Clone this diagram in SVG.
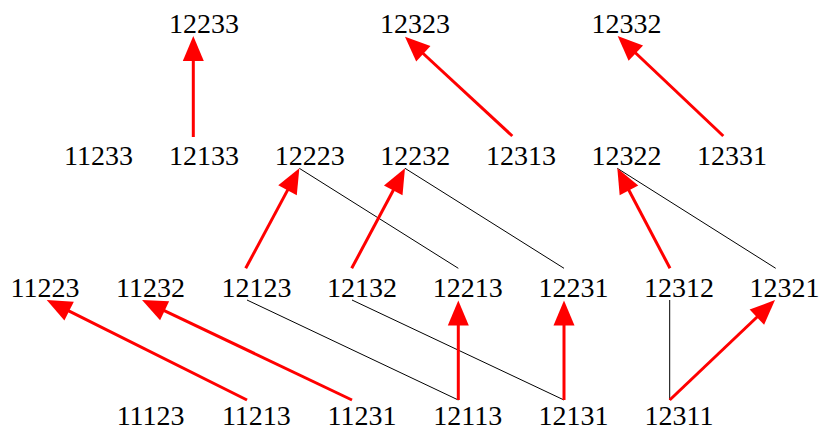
<svg xmlns="http://www.w3.org/2000/svg" width="823" height="431" viewBox="0 0 823 431">
<style>
text{font-family:"Liberation Serif","DejaVu Serif",serif;font-size:28px;fill:#000;text-anchor:middle}
.red{stroke:#ff0000;stroke-width:3;fill:none;marker-end:url(#ah)}
.blk{stroke:#000;stroke-width:1;fill:none}
</style>
<defs>
<marker id="ah" markerUnits="userSpaceOnUse" orient="auto" refX="0" refY="0" overflow="visible" markerWidth="26" markerHeight="22">
<path d="M-1,-10.5 L24,0 L-1,10.5 z" fill="#ff0000"/>
</marker>
</defs>
<rect width="823" height="431" fill="#fff"/>
<g id="connectors">
<line class="blk" x1="299.3" y1="168.3" x2="458.3" y2="268.3"/>
<line class="blk" x1="405" y1="168.3" x2="564" y2="268.3"/>
<line class="blk" x1="617.3" y1="168.3" x2="775.7" y2="268.3"/>
<line class="blk" x1="247" y1="300" x2="458.3" y2="400"/>
<line class="blk" x1="352" y1="300" x2="564" y2="400"/>
<line class="blk" x1="669.7" y1="300" x2="669.7" y2="400"/>
<line class="red" x1="193.3" y1="137" x2="193.3" y2="60"/>
<line class="red" x1="512.3" y1="136" x2="422.6" y2="53"/>
<line class="red" x1="723.3" y1="136" x2="635.1" y2="52.5"/>
<line class="red" x1="245.7" y1="268.3" x2="288" y2="189.4"/>
<line class="red" x1="351.7" y1="268.3" x2="393.7" y2="189.5"/>
<line class="red" x1="670" y1="268.3" x2="628.5" y2="189.5"/>
<line class="red" x1="247" y1="400" x2="68.2" y2="310.7"/>
<line class="red" x1="352" y1="400" x2="163.7" y2="310.3"/>
<line class="red" x1="458.3" y1="400" x2="458.3" y2="324.5"/>
<line class="red" x1="564" y1="400" x2="564" y2="324.5"/>
<line class="red" x1="669.7" y1="400" x2="757.6" y2="316.5"/>
</g>
<g id="n12233"><text x="204" y="33">12233</text></g>
<g id="n12323"><text x="415" y="33">12323</text></g>
<g id="n12332"><text x="626.5" y="33">12332</text></g>
<g id="n11233"><text x="98.5" y="165">11233</text></g>
<g id="n12133"><text x="204" y="165">12133</text></g>
<g id="n12223"><text x="309.7" y="165">12223</text></g>
<g id="n12232"><text x="415.3" y="165">12232</text></g>
<g id="n12313"><text x="520.9" y="165">12313</text></g>
<g id="n12322"><text x="626.5" y="165">12322</text></g>
<g id="n12331"><text x="732.1" y="165">12331</text></g>
<g id="n11223"><text x="45" y="297">11223</text></g>
<g id="n11232"><text x="150.6" y="297">11232</text></g>
<g id="n12123"><text x="256.4" y="297">12123</text></g>
<g id="n12132"><text x="362" y="297">12132</text></g>
<g id="n12213"><text x="467.7" y="297">12213</text></g>
<g id="n12231"><text x="573.4" y="297">12231</text></g>
<g id="n12312"><text x="679" y="297">12312</text></g>
<g id="n12321"><text x="784.6" y="297">12321</text></g>
<g id="n11123"><text x="150.6" y="424.5">11123</text></g>
<g id="n11213"><text x="256.4" y="424.5">11213</text></g>
<g id="n11231"><text x="362" y="424.5">11231</text></g>
<g id="n12113"><text x="467.7" y="424.5">12113</text></g>
<g id="n12131"><text x="573.4" y="424.5">12131</text></g>
<g id="n12311"><text x="679" y="424.5">12311</text></g>
</svg>
